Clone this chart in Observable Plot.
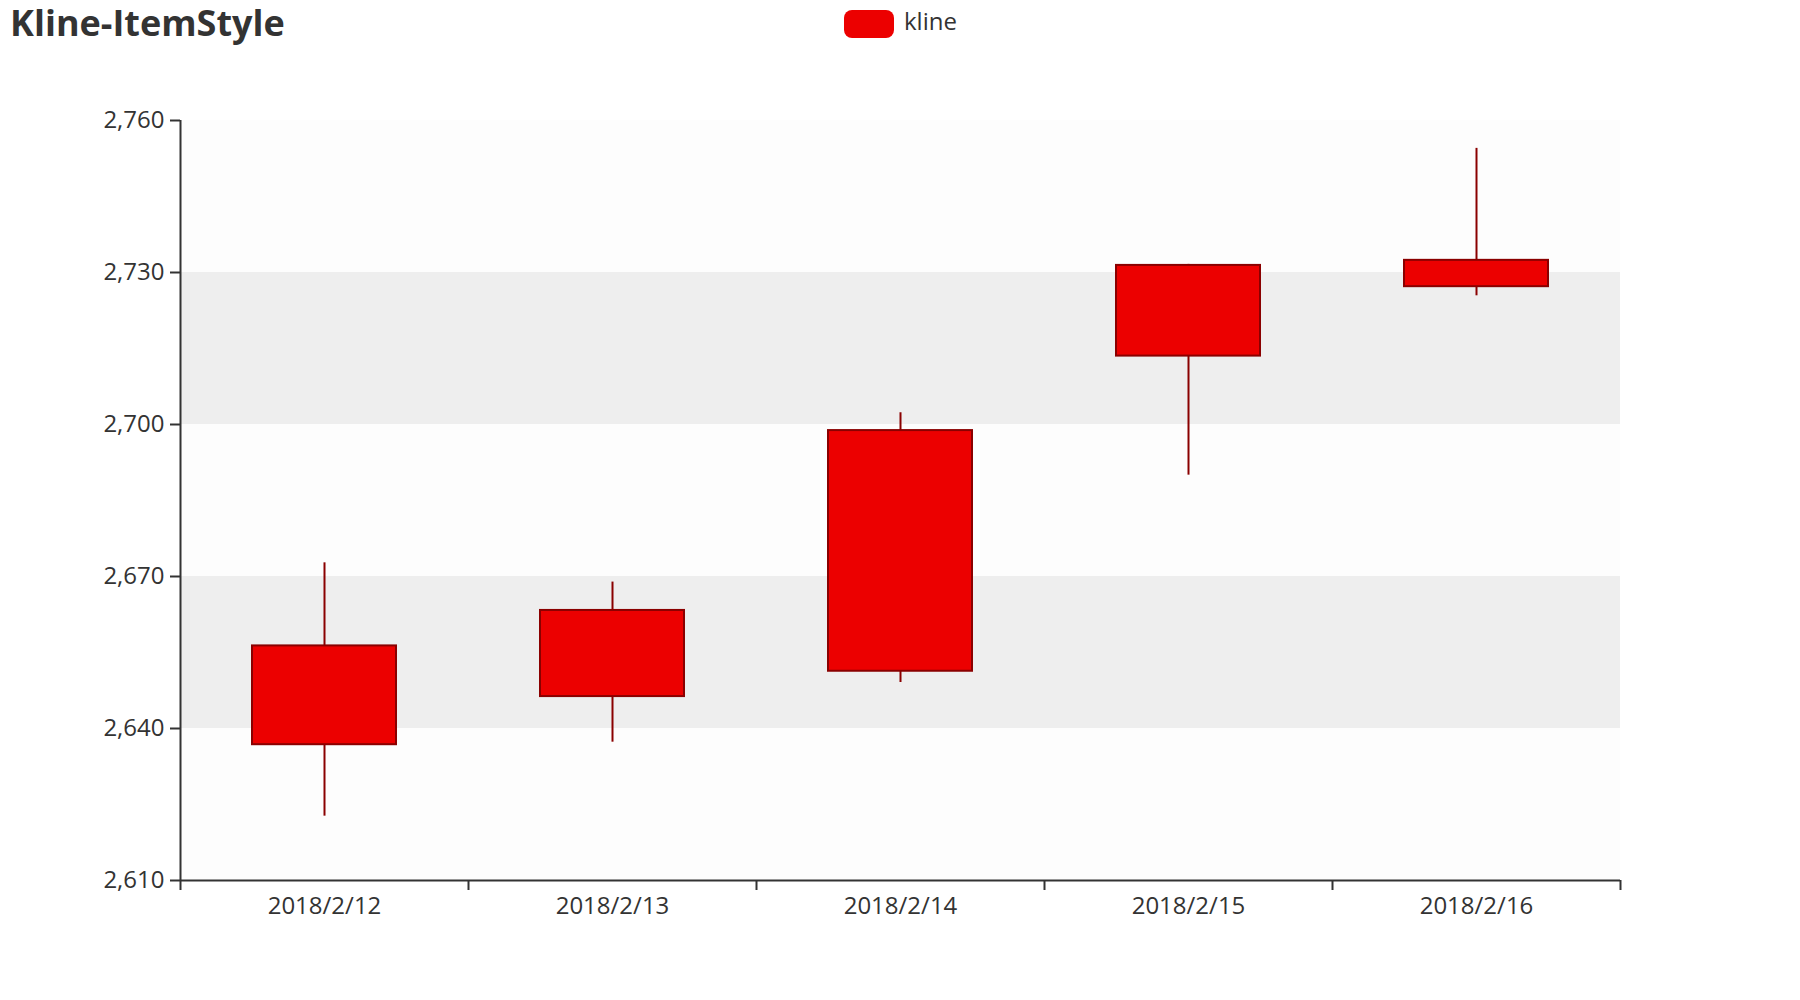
<!DOCTYPE html>
<html>
<head>
<meta charset="utf-8">
<script src="https://cdn.jsdelivr.net/npm/d3@7"></script>
<script src="https://cdn.jsdelivr.net/npm/@observablehq/plot@0.6"></script>
<style>
  html, body { margin: 0; padding: 0; background: #fff; }
  #wrap { position: relative; width: 1800px; height: 1000px; font-family: "Open Sans", "Noto Sans", sans-serif; }
  #title { position: absolute; left: 10px; top: 0px; font-size: 36px; font-weight: 700; color: #333; line-height: 46px; }
  #legend { position: absolute; left: 844px; top: 10px; height: 28px; width: 200px; }
  #legend .sw { position: absolute; left: 0; top: 0; width: 50px; height: 28px; border-radius: 8px; background: #ec0000; }
  #legend .lb { position: absolute; left: 60px; top: -4px; font-size: 24px; color: #333; line-height: 30px; }
  #chart { position: absolute; left: 0; top: 0; }
</style>
</head>
<body>
<div id="wrap">
  <div id="chart"></div>
  <div id="title">Kline-ItemStyle</div>
  <div id="legend"><div class="sw"></div><div class="lb">kline</div></div>
</div>
<script>
const dates = ["2018/2/12", "2018/2/13", "2018/2/14", "2018/2/15", "2018/2/16"];
const openVals = [2636.8, 2646.3, 2651.3, 2713.5, 2727.2];
const closeVals = [2656.3, 2663.3, 2698.8, 2731.4, 2732.4];
const lowVals = [2622.7, 2637.3, 2649.1, 2690.0, 2725.4];
const highVals = [2672.7, 2668.9, 2702.3, 2731.6, 2754.5];
const yTicks = [2610, 2640, 2670, 2700, 2730, 2760];

const candles = dates.map((d, i) => ({
  date: d, i, open: openVals[i], close: closeVals[i], low: lowVals[i], high: highVals[i]
}));
const bands = yTicks.slice(0, -1).map((t, k) => ({ y1: t, y2: yTicks[k + 1], k }));
const boundaries = d3.range(dates.length + 1);
const centers = dates.map((d, i) => i + 0.5);

const chart = Plot.plot({
  width: 1800,
  height: 1000,
  marginLeft: 180,
  marginRight: 180,
  marginTop: 120,
  marginBottom: 120,
  style: { fontFamily: "'Open Sans', 'Noto Sans', sans-serif", fontSize: "24px", color: "#333", background: "transparent" },
  x: { domain: [0, dates.length] },
  y: { domain: [yTicks[0], yTicks[yTicks.length - 1]] },
  marks: [
    Plot.rectY(bands, { y1: "y1", y2: "y2", fill: d => d.k % 2 === 0 ? "rgba(250,250,250,0.3)" : "rgba(200,200,200,0.3)" }),
    Plot.ruleX(candles, { x: d => d.i + 0.5, y1: "low", y2: "high", stroke: "#8A0000", strokeWidth: 2 }),
    Plot.rectY(candles, { x1: d => d.i + 0.25, x2: d => d.i + 0.75, y1: "open", y2: "close", fill: "#ec0000", stroke: "#8A0000", strokeWidth: 2 }),
    Plot.ruleY([yTicks[0]], { stroke: "#333", strokeWidth: 2 }),
    Plot.ruleX([0], { stroke: "#333", strokeWidth: 2 }),
    Plot.axisY({ ticks: yTicks, tickFormat: d3.format(","), tickSize: 10, tickPadding: 6, strokeWidth: 2, label: null, fill: "#333" }),
    Plot.axisX({ ticks: boundaries, tickFormat: () => "", tickSize: 10, strokeWidth: 2, label: null }),
    Plot.axisX({ ticks: centers, tickFormat: v => dates[Math.floor(v)], tickSize: 0, tickPadding: 16, label: null, fill: "#333" })
  ]
});
document.getElementById("chart").appendChild(chart);
</script>
</body>
</html>
